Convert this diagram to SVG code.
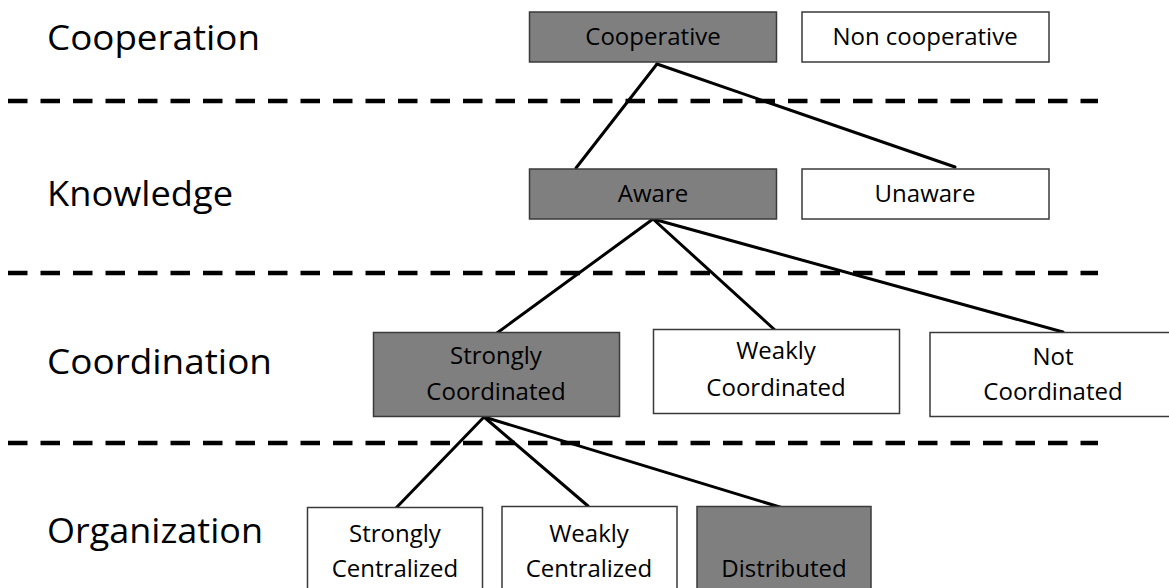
<svg xmlns="http://www.w3.org/2000/svg" width="1169" height="588" viewBox="0 0 1169 588">
<style>
.lvl{font-family:"Open Sans","Liberation Sans",sans-serif;font-size:35px;fill:#000}
.t{font-family:"Open Sans","Liberation Sans",sans-serif;font-size:24px;fill:#000;text-anchor:middle}
.dk{fill:#7f7f7f;stroke:#3a3a3a;stroke-width:1.5}
.lt{fill:#fff;stroke:#3a3a3a;stroke-width:1.5}
.dash{stroke:#000;stroke-width:4.5;stroke-dasharray:19.5 13;fill:none}
.c{stroke:#000;stroke-width:3;fill:none;stroke-linecap:round}
</style>
<rect width="1169" height="588" fill="#fff"/>
<g id="levels">
<text class="lvl" x="47" y="50" textLength="213" lengthAdjust="spacingAndGlyphs">Cooperation</text>
<text class="lvl" x="47" y="206" textLength="186" lengthAdjust="spacingAndGlyphs">Knowledge</text>
<text class="lvl" x="47" y="374" textLength="225" lengthAdjust="spacingAndGlyphs">Coordination</text>
<text class="lvl" x="47" y="543" textLength="216" lengthAdjust="spacingAndGlyphs">Organization</text>
</g>
<g id="separators">
<line class="dash" x1="8" y1="101" x2="1098" y2="101"/>
<line class="dash" x1="8" y1="273" x2="1098" y2="273"/>
<line class="dash" x1="8" y1="443" x2="1098" y2="443"/>
</g>
<g id="connectors">
<line class="c" x1="657" y1="64" x2="576" y2="168"/>
<line class="c" x1="657" y1="64" x2="955" y2="167"/>
<line class="c" x1="653" y1="219" x2="497" y2="333"/>
<line class="c" x1="653" y1="219" x2="776" y2="331"/>
<line class="c" x1="653" y1="219" x2="1063" y2="332"/>
<line class="c" x1="484" y1="417" x2="396" y2="508"/>
<line class="c" x1="484" y1="417" x2="588" y2="506"/>
<line class="c" x1="484" y1="417" x2="783" y2="508"/>
</g>
<g id="cooperative">
<rect class="dk" x="529.5" y="12" width="247" height="50"/>
<text class="t" x="653" y="45">Cooperative</text>
</g>
<g id="non-cooperative">
<rect class="lt" x="802" y="12" width="247" height="50"/>
<text class="t" x="925" y="45">Non cooperative</text>
</g>
<g id="aware">
<rect class="dk" x="529.5" y="169" width="247" height="50"/>
<text class="t" x="653" y="202">Aware</text>
</g>
<g id="unaware">
<rect class="lt" x="802" y="169" width="247" height="50"/>
<text class="t" x="925" y="202">Unaware</text>
</g>
<g id="strongly-coordinated">
<rect class="dk" x="373.5" y="332.5" width="246" height="84"/>
<text class="t" x="496" y="364">Strongly</text>
<text class="t" x="496" y="400">Coordinated</text>
</g>
<g id="weakly-coordinated">
<rect class="lt" x="653.5" y="329.5" width="246" height="84"/>
<text class="t" x="776" y="359">Weakly</text>
<text class="t" x="776" y="396">Coordinated</text>
</g>
<g id="not-coordinated">
<rect class="lt" x="930" y="332.5" width="246" height="84"/>
<text class="t" x="1053" y="365">Not</text>
<text class="t" x="1053" y="400">Coordinated</text>
</g>
<g id="strongly-centralized">
<rect class="lt" x="307.5" y="507.5" width="175" height="90"/>
<text class="t" x="395" y="542">Strongly</text>
<text class="t" x="395" y="577">Centralized</text>
</g>
<g id="weakly-centralized">
<rect class="lt" x="502" y="506.5" width="175" height="90"/>
<text class="t" x="589" y="542">Weakly</text>
<text class="t" x="589" y="577">Centralized</text>
</g>
<g id="distributed">
<rect class="dk" x="697" y="506.5" width="174" height="90"/>
<text class="t" x="784" y="577">Distributed</text>
</g>
</svg>
